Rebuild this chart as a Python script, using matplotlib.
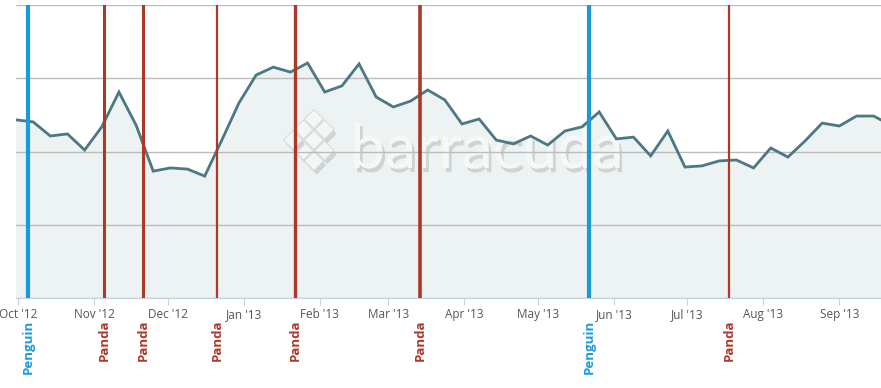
import datetime as dt
import numpy as np
import matplotlib
matplotlib.use("Agg")
import matplotlib.pyplot as plt
import matplotlib.dates as mdates
import matplotlib.patheffects as pe
from matplotlib.patches import Polygon

# weekly traffic index (0-100), starting Sunday 30 Sep 2012
start = dt.date(2012, 9, 30)
values = [60.8, 60.1, 55.3, 56.0, 50.5, 58.4, 70.3, 59.0, 43.3, 44.4,
          44.0, 41.6, 53.9, 66.6, 76.1, 78.8, 77.1, 80.2, 70.3, 72.4,
          79.9, 68.6, 65.2, 67.2, 71.0, 67.6, 59.4, 61.1, 53.9, 52.6,
          55.3, 52.2, 57.0, 58.4, 63.5, 54.3, 54.9, 48.5, 57.0, 44.7,
          45.1, 46.8, 47.1, 44.4, 51.2, 48.1, 53.6, 59.7, 58.7, 62.1,
          62.1, 59.0]
dates = [start + dt.timedelta(weeks=i) for i in range(len(values))]

# Google algorithm updates
updates = [("Penguin", dt.date(2012, 10, 5)),
           ("Panda", dt.date(2012, 11, 5)),
           ("Panda", dt.date(2012, 11, 21)),
           ("Panda", dt.date(2012, 12, 21)),
           ("Panda", dt.date(2013, 1, 22)),
           ("Panda", dt.date(2013, 3, 14)),
           ("Penguin", dt.date(2013, 5, 22)),
           ("Panda", dt.date(2013, 7, 18))]
colors = {"Penguin": "#1b9ad8", "Panda": "#ac3828"}
widths = [3, 2.2, 2.2, 1.6, 2.4, 2.6, 3, 1.6]

fig = plt.figure(figsize=(8.81, 3.88), dpi=100)
ax = fig.add_axes([16 / 881, 90 / 388, 865 / 881, 293 / 388])

ax.fill_between(dates, values, 0, color="#edf2f2", zorder=1)
ax.plot(dates, values, color="#4b7882", lw=2, zorder=4,
        solid_joinstyle="miter")

for (name, d), w in zip(updates, widths):
    ax.axvline(d, color=colors[name], lw=w, zorder=5)
    ax.text(mdates.date2num(d), -0.075, name, transform=ax.get_xaxis_transform(),
            rotation=90, ha="center", va="top", color=colors[name],
            fontsize=9.5, fontweight="bold", family="Open Sans", clip_on=False)

ax.set_ylim(0, 100)
ax.set_yticks([0, 25, 50, 75, 100])
ax.set_axisbelow("line")
ax.yaxis.grid(True, color="#bcbcbc", lw=1)
ax.tick_params(axis="y", left=False, labelleft=False)
ax.set_xlim(dt.date(2012, 9, 30), dt.date(2013, 9, 18))
ax.xaxis.set_major_locator(mdates.MonthLocator())
ax.xaxis.set_major_formatter(mdates.DateFormatter("%b '%y"))
ax.tick_params(axis="x", direction="out", length=5, color="#c5d3e0",
               labelsize=8.5, labelcolor="#555555", pad=2)
for lbl in ax.get_xticklabels():
    lbl.set_family("Open Sans")
for s in ["top", "left", "right"]:
    ax.spines[s].set_visible(False)
ax.spines["bottom"].set_color("#c5d3e0")

# barracuda watermark, behind grid and lines
shadow = [pe.withSimplePatchShadow(offset=(2, -3), shadow_rgbFace="#aab0b0", alpha=0.45), pe.Normal()]
ax.text(350 / 881, (388 - 168) / 388, "barracuda", fontsize=45, color="#f6f7f7",
        family="Lato", va="baseline", ha="left", transform=fig.transFigure,
        path_effects=shadow, zorder=1.2)
cells = [(0, 0), (1, 0), (0, 1), (1, 1), (2, 1), (1, 2), (2, 2), (0, 2)]
cx, cy, s = 314, 149, 10.5
for i, j in cells:
    x0 = cx + (i - j) * s
    y0 = cy - 30 + (i + j) * s
    pts = [(x0, y0 - s * 0.9), (x0 + s * 0.9, y0), (x0, y0 + s * 0.9), (x0 - s * 0.9, y0)]
    pts = [(px / 881, (388 - py) / 388) for px, py in pts]
    ax.add_patch(Polygon(pts, closed=True, transform=fig.transFigure,
                         facecolor="#f4f6f6", edgecolor="#d8dcdc", lw=0.6,
                         path_effects=shadow, zorder=1.2))

plt.savefig("out.png", dpi=100)
